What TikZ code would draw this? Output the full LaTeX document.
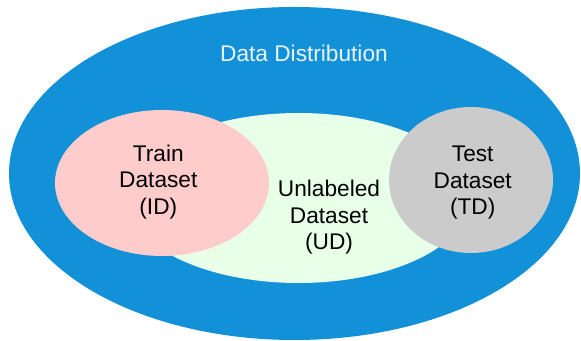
\documentclass[tikz,border=0pt]{standalone}
\usepackage{fontspec}
\setmainfont{Liberation Sans}
\usetikzlibrary{shapes.geometric}
\definecolor{ddblue}{HTML}{1290D8}
\definecolor{udgreen}{HTML}{E8FFE8}
\definecolor{idpink}{HTML}{FFCCCC}
\definecolor{tdgray}{HTML}{CBCBCB}
\definecolor{titlewhite}{HTML}{EAF4FF}
\begin{document}
\begin{tikzpicture}[x=0.75pt,y=-0.75pt,
  region/.style={ellipse, draw=none, inner sep=0pt},
  lbl/.style={align=center, inner sep=0pt, font=\fontsize{17}{20}\selectfont, text=black},
]
\useasboundingbox (0,0) rectangle (581,341);
\node[region, fill=ddblue, minimum width=428.25pt, minimum height=249.75pt] (dist) at (294.5,173.5) {};
\node[region, fill=udgreen, minimum width=258pt, minimum height=127.5pt] (ud) at (298.5,198) {};
\node[region, fill=idpink, minimum width=160.5pt, minimum height=109.5pt] (id) at (162,183) {};
\node[region, fill=tdgray, minimum width=123pt, minimum height=109.5pt] (td) at (471,180) {};
\node[lbl, text=titlewhite, anchor=base] (title) at (304,61.7) {Data Distribution};
\node[lbl, anchor=north] (idtext) at (158.3,144.6) {Train\\Dataset\\(ID)};
\node[lbl, anchor=north] (udtext) at (329,179.8) {Unlabeled\\Dataset\\(UD)};
\node[lbl, anchor=north] (tdtext) at (472.7,145.8) {Test\\Dataset\\(TD)};
\end{tikzpicture}
\end{document}
